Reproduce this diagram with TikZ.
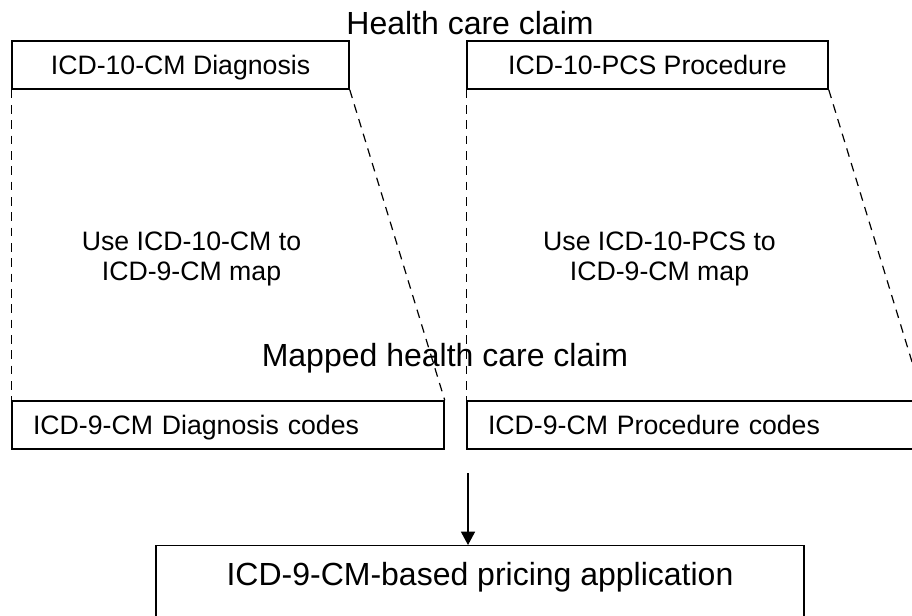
\documentclass[tikz,border=0pt]{standalone}
\usepackage{fontspec}
\setmainfont{Liberation Sans}
\usetikzlibrary{arrows.meta}

\begin{document}
\begin{tikzpicture}[x=0.75pt,y=-0.75pt,
  codebox/.style={draw,line width=1.1pt,inner sep=0pt,minimum height=36pt,
    text height=16pt,text depth=1.75pt,font=\fontsize{20}{22.5}\selectfont},
  codelist/.style={codebox,align=left,inner xsep=15.75pt,text width=#1},
  heading/.style={font=\fontsize{24}{28}\selectfont},
  maptext/.style={align=center,font=\fontsize{20}{22.5}\selectfont},
  mapline/.style={dash pattern=on 6.5pt off 5pt,line width=0.9pt}]

\useasboundingbox (0,0) rectangle (912,616);
\clip (0,0) rectangle (912,616);

\node[heading] (claim) at (470,23) {Health care claim};

\node[codebox,minimum width=252.75pt] (dx10) at (180.5,65) {ICD-10-CM Diagnosis};
\node[codebox,minimum width=270.75pt] (pcs10) at (647.5,65) {ICD-10-PCS Procedure};

\node[maptext] (dxmap) at (191.5,259) {Use ICD-10-CM to\\ICD-9-CM map};
\node[maptext] (pcsmap) at (659.5,259) {Use ICD-10-PCS to\\ICD-9-CM map};

\node[heading] (mapped) at (445,358) {Mapped health care claim};

\node[codelist=292.5pt] (dx9) at (228,425) {ICD-9-CM Diagnosis codes};
\node[codelist=310.5pt] (pc9) at (695,425) {ICD-9-CM Procedure codes};

% mapping funnels
\draw[mapline] (dx10.south west) -- (dx9.north west);
\draw[mapline] (dx10.south east) -- (dx9.north east);
\draw[mapline] (pcs10.south west) -- (pc9.north west);
\draw[mapline] (pcs10.south east) -- (pc9.north east);

\node[draw,line width=1.1pt,inner sep=0pt,anchor=north,minimum width=486pt,
      text height=30pt,text depth=30pt,heading] (price) at (480,545) {ICD-9-CM-based pricing application};

\coordinate (feed) at (468,473);
\draw[line width=1.1pt,-{Triangle[length=10pt,width=10.5pt]}] (feed) -- (feed |- price.north);

\end{tikzpicture}
\end{document}
